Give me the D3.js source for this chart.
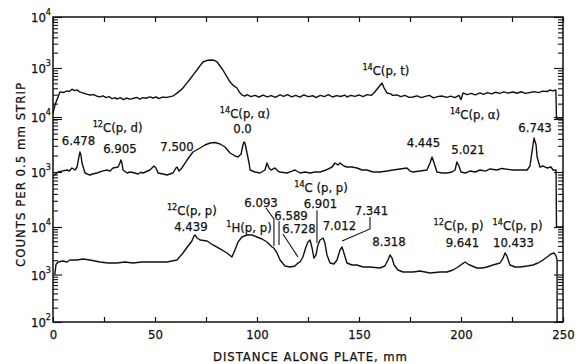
<!DOCTYPE html>
<html>
<head>
<meta charset="utf-8">
<script src="https://cdn.jsdelivr.net/npm/d3@7"></script>
<style>
  body { margin: 0; background: #fff; }
  svg text { font-family: "DejaVu Sans Condensed", "DejaVu Sans", sans-serif; fill: #111; stroke: #111; stroke-width: 0.25px; }
</style>
</head>
<body>
<div id="chart"></div>
<script>
// ---- data: [distance mm, counts per strip] ----
const xTicks = [0, 25, 50, 75, 100, 125, 150, 175, 200, 225, 250]
const xTickLabels = [0, 50, 100, 150, 200, 250]

// exponent labels shown on the left axis of each strip
const topExps = [3, 4]
const midExps = [3, 4]
const botExps = [2, 3, 4]

// top strip: 14C(p,t)
const topTrace = [[0,130],[1,190],[2,240],[3.4,340],[5,330],[6.9,355],[8,345],[9.3,385],[10.5,360],[11.8,372],[13,340],[14.7,325],[16,310],[18.1,296],[20,300],[21.5,280],[23,272],[24.5,285],[26,262],[27.5,275],[29,250],[30.5,262],[31.4,245],[33,262],[34.5,240],[36,258],[37.5,245],[39.2,252],[41,265],[42.5,245],[44,262],[45.5,255],[47.5,272],[49,258],[50.5,270],[52,252],[53.5,268],[55.9,265],[57.5,275],[59,285],[60.8,322],[62.3,360],[63.7,405],[65.5,500],[67.2,608],[69,760],[70.6,914],[72,1100],[73.5,1312],[75.3,1400],[77,1436],[78.8,1420],[80.4,1312],[82,1080],[83.3,914],[85,700],[86.8,531],[88.5,450],[90.2,405],[91.5,330],[92.6,296],[94,280],[95.1,300],[97,275],[99,290],[101,270],[103,295],[105,272],[107,288],[109,265],[111.3,296],[113,278],[115,300],[117,272],[119,290],[121,268],[123,298],[125,275],[127.5,285],[129,262],[131,290],[133,275],[135,300],[137,270],[139,288],[141,276],[143,295],[144.1,270],[146,290],[148,278],[150,296],[152,275],[154,300],[156,290],[157.5,330],[159.3,405],[161.3,508],[162.3,405],[163.7,324],[165.5,310],[166.5,290],[168.6,296],[170.5,275],[172.5,290],[174.5,265],[176.5,270],[178.5,285],[180.5,262],[182.5,278],[184.5,290],[186.5,260],[188.5,275],[190.5,282],[193.1,265],[195,280],[197,262],[199,290],[200,240],[201,324],[203,300],[205,318],[207,296],[209.3,324],[211,305],[213,330],[215,312],[217,335],[219,318],[221,340],[223,322],[225.5,338],[227.5,320],[229.5,342],[231.5,318],[233.8,330],[236,345],[238,330],[240,352],[242.2,345],[243.5,370],[245.1,355],[246.5,372],[246.8,100],[250,100]]

// middle strip: 12C(p,d), 14C(p,alpha)
const midTrace = [[0.3,880],[1,900],[2.5,1000],[4.4,1040],[6.9,1087],[8,1040],[9.3,1183],[10.8,1087],[11.8,1233],[12.7,1874],[13.2,2310],[13.7,2037],[14.2,1458],[15.7,959],[18.1,881],[19.8,930],[21.6,959],[24,1040],[26.5,1087],[28,1040],[29.4,1183],[31.9,1233],[32.8,1458],[33.3,1652],[33.8,1458],[34.3,1087],[36.3,959],[37.8,1000],[39.2,980],[41.7,920],[43,990],[44.1,959],[47.5,1087],[49.5,1285],[50.5,1183],[51.5,959],[53.9,920],[55.9,881],[58.8,959],[60.3,1183],[60.8,1233],[61.8,1040],[63.2,1183],[65.7,1652],[68.6,2310],[72.1,2731],[74.5,3097],[77,3367],[79.4,3440],[81.9,3228],[84.3,2848],[86.8,2215],[89.2,1960],[90.7,1874],[92.2,2120],[93.1,3097],[93.6,3511],[94.1,3367],[95.1,2215],[96.1,1458],[96.6,1087],[99,1000],[101.5,959],[103.9,1087],[104.9,1458],[105.9,1183],[106.9,1087],[108.8,1183],[110.3,1040],[111.3,1000],[114.7,959],[117.2,1040],[118.6,1087],[121.1,959],[123.5,1000],[126,959],[128.4,1000],[130.9,1000],[133.8,1087],[136.8,1233],[138.2,1458],[139.7,1340],[140.7,1458],[142.6,1285],[144.1,1233],[146.6,1233],[149,1183],[151.5,1087],[153.9,1087],[156.9,1000],[160.3,1000],[163.7,1040],[166.7,1087],[170.1,1135],[173.5,1183],[175,1040],[176.5,1000],[179.9,1040],[183.3,1087],[184.8,1458],[185.8,1874],[186.8,1458],[188.2,1000],[190.7,959],[193.1,959],[195.6,1000],[197.1,1087],[198,1520],[199,1285],[200,1000],[202,959],[204.4,1040],[207,1000],[209.3,1087],[212,1040],[214.2,1135],[217.6,1087],[220,1160],[221.6,1135],[225.5,1087],[228.9,1087],[232.4,1087],[233.8,1285],[234.8,2310],[235.8,4151],[236.8,3100],[237.3,1874],[238.7,1233],[240.2,1285],[242.2,1183],[244.1,1233],[245.1,1087],[246.6,1087],[246.8,100],[250,100]]

// bottom strip: 12C(p,p), 1H(p,p), 14C(p,p)
const botTrace = [[0.8,1000],[1,1077],[1.5,1650],[2.5,1834],[4.9,1923],[6.9,1834],[8.3,2017],[11.8,2017],[14.7,2117],[18.1,2017],[23,1834],[27,1746],[31.4,1746],[35.3,1834],[39.2,1746],[43.6,1834],[47.5,1834],[52.5,1834],[55.9,1834],[58.3,1923],[60.8,2017],[63.7,2838],[66.2,3978],[68.1,5070],[69.1,6480],[69.6,6792],[70.6,5867],[72.1,5325],[75.5,5070],[78.4,4182],[81.9,3450],[85.3,2838],[87.7,2335],[89.2,3280],[90.7,4830],[92.6,6155],[95.1,6792],[97.5,6792],[100,6155],[102.5,5590],[104.9,4830],[107.4,3792],[108.3,3610],[109.8,2838],[111.3,2017],[113.7,1510],[116.2,1439],[118.6,1510],[120.1,1746],[121.1,1834],[122.5,2335],[124,3792],[125,4830],[126,5325],[127,3610],[127.9,2220],[128.9,2575],[129.9,4182],[130.9,5325],[132.4,5867],[133.3,4603],[134.3,2575],[135.8,1746],[137.7,1660],[139.2,2017],[140.7,3280],[141.7,3792],[142.6,2838],[144.1,1746],[146.6,1585],[149,1585],[152,1439],[155.4,1439],[160.3,1371],[162.7,1510],[164.2,2017],[165.2,2575],[166.2,2220],[167.2,1585],[169.1,1245],[171.6,1130],[176.5,1130],[179.9,1185],[184.8,1077],[189.7,1130],[193.1,1130],[196.1,1245],[198.5,1439],[200.5,1660],[202,1834],[203.4,1660],[205.4,1510],[207.8,1371],[210.3,1371],[212.7,1439],[215.7,1585],[219.1,1746],[220.6,2220],[221.6,2838],[222.5,2460],[224,1585],[226.5,1439],[228.9,1439],[232.4,1510],[235.3,1585],[237.7,1746],[240.2,2017],[242.2,2335],[244.1,2700],[245.6,2838],[246.6,2460],[247.1,2017],[247.1,100],[250,100]]

// peak annotations, anchored at [mm, counts] of their strip
const topNotes = [
  { sup: '14', t: 'C(p, t)', mm: 163.2, c: 914 }
]
const midNotes = [
  { sup: '12', t: 'C(p, d)', mm: 31.7, c: 6580 },
  { t: '6.478', mm: 12.5, c: 3820 },
  { t: '6.905', mm: 32.8, c: 2730 },
  { t: '7.500', mm: 60.8, c: 2970 },
  { sup: '14', t: 'C(p, α)', mm: 94.1, c: 11800 },
  { t: '0.0', mm: 92.9, c: 6100 },
  { t: '4.445', mm: 181.6, c: 3510 },
  { t: '5.021', mm: 203.4, c: 2620 },
  { sup: '14', t: 'C(p, α)', mm: 206.9, c: 11000 },
  { t: '6.743', mm: 236.3, c: 6580 }
]
const botNotes = [
  { sup: '12', t: 'C(p, p)', mm: 68.1, c: 22800 },
  { t: '4.439', mm: 67.6, c: 10500 },
  { sup: '1', t: 'H(p, p)', mm: 96.1, c: 10000 },
  { t: '6.093', mm: 102.0, c: 33600 },
  { t: '6.589', mm: 116.7, c: 17900 },
  { t: '6.728', mm: 120.6, c: 9300 },
  { sup: '14', t: 'C (p, p)', mm: 131.4, c: 69000 },
  { t: '6.901', mm: 131.1, c: 32000 },
  { t: '7.012', mm: 140.4, c: 11020 },
  { t: '7.341', mm: 156.1, c: 22000 },
  { t: '8.318', mm: 164.7, c: 5070 },
  { sup: '12', t: 'C(p, p)', mm: 198.8, c: 11020 },
  { t: '9.641', mm: 200.7, c: 4830 },
  { sup: '14', t: 'C(p, p)', mm: 227.7, c: 11020 },
  { t: '10.433', mm: 225.7, c: 4830 }
]
// leader lines from labels down to the peaks (bottom strip)
const botLeaders = [
  [[104.4, 25100], [108.3, 14700], [108.3, 3980]],
  [[110.8, 13370], [110.8, 4180]],
  [[112.7, 7130], [120.1, 2335]],
  [[129.4, 22500], [129.4, 4600]],
  [[155.4, 16260], [155.4, 9080], [141.7, 5070]]
]

const width = 580, height = 364
const padL = 53, padR = 563, padT = 17, padB = 322

const svg = d3.select('#chart').append('svg')
  .attr('width', width)
  .attr('height', height)

const x = d3.scaleLinear().domain([0, 250]).range([padL, padR])

// each strip is its own two-decade log axis, stacked on top of each other
const yTop = d3.scaleLog().domain([100, 10000]).range([119, padT])
const yMid = d3.scaleLog().domain([100, 10000]).range([227, 117])
const yBot = d3.scaleLog().domain([100, 10000]).range([padB, 227])

const strips = [
  { y: yTop, trace: topTrace, exps: topExps, notes: topNotes },
  { y: yMid, trace: midTrace, exps: midExps, notes: midNotes },
  { y: yBot, trace: botTrace, exps: botExps, notes: botNotes }
]

// x axes, ticks pointing inward
const xb = svg.append('g')
  .attr('transform', 'translate(0,' + padB + ')')
  .call(d3.axisBottom(x).tickValues(xTicks).tickSize(-5).tickPadding(9)
    .tickFormat(d => xTickLabels.includes(d) ? d : ''))
const xt = svg.append('g')
  .attr('transform', 'translate(0,' + padT + ')')
  .call(d3.axisTop(x).tickValues(xTicks).tickSize(-5).tickFormat(''))
for (const g of [xb, xt]) {
  g.select('.domain').remove()
  g.selectAll('line').attr('stroke', '#111').attr('stroke-width', 1.2)
}
xb.selectAll('text').attr('font-size', 13).attr('fill', '#111').attr('dy', '0.6em')

// y axes for every strip, log ticks on both sides
strips.forEach(s => {
  const isMajor = d => Math.abs(Math.log10(d) - Math.round(Math.log10(d))) < 1e-6
  const gl = svg.append('g')
    .attr('transform', 'translate(' + padL + ',0)')
    .call(d3.axisRight(s.y).tickSize(5).tickFormat(''))
  const gr = svg.append('g')
    .attr('transform', 'translate(' + padR + ',0)')
    .call(d3.axisLeft(s.y).tickSize(5).tickFormat(''))
  gl.selectAll('.tick line').filter(isMajor).attr('x2', 9)
  gr.selectAll('.tick line').filter(isMajor).attr('x2', -9)
  for (const g of [gl, gr]) {
    g.select('.domain').remove()
    g.selectAll('line').attr('stroke', '#111').attr('stroke-width', 1.1)
  }

  const lab = svg.append('g').selectAll('text')
    .data(s.exps)
    .join('text')
    .attr('x', padL - 2)
    .attr('y', d => s.y(Math.pow(10, d)))
    .attr('text-anchor', 'end')
    .attr('font-size', 13)
  lab.append('tspan').attr('dy', '0.4em').text('10')
  lab.append('tspan').attr('font-size', 9).attr('dy', '-0.75em').text(d => d)
})

// frame
svg.append('rect')
  .attr('x', padL).attr('y', padT)
  .attr('width', padR - padL).attr('height', padB - padT)
  .attr('fill', 'none').attr('stroke', '#111').attr('stroke-width', 1.5)

// traces
strips.forEach(s => {
  const line = d3.line().x(d => x(d[0])).y(d => s.y(d[1]))
  svg.append('path')
    .datum(s.trace)
    .attr('d', line)
    .attr('fill', 'none')
    .attr('stroke', '#111')
    .attr('stroke-width', 1.4)
    .attr('stroke-linejoin', 'round')
})

// annotations
strips.forEach(s => {
  const t = svg.append('g').selectAll('text')
    .data(s.notes)
    .join('text')
    .attr('x', d => x(d.mm))
    .attr('y', d => s.y(d.c))
    .attr('text-anchor', 'middle')
    .attr('font-size', 13)
  t.filter(d => d.sup).append('tspan')
    .attr('font-size', 9).attr('dy', '-0.05em').text(d => d.sup)
  t.append('tspan')
    .attr('dy', d => d.sup ? '0.4em' : '0.36em')
    .text(d => d.t)
})

const leader = d3.line().x(d => x(d[0])).y(d => yBot(d[1]))
svg.append('g').selectAll('path')
  .data(botLeaders)
  .join('path')
  .attr('d', leader)
  .attr('fill', 'none')
  .attr('stroke', '#111')
  .attr('stroke-width', 1.1)

// axis titles
svg.append('text')
  .attr('x', 310).attr('y', 361)
  .attr('text-anchor', 'middle')
  .attr('font-size', 13)
  .attr('textLength', 194).attr('lengthAdjust', 'spacing')
  .text('DISTANCE ALONG PLATE, mm')

svg.append('text')
  .attr('transform', 'translate(25,175) rotate(-90)')
  .attr('text-anchor', 'middle')
  .attr('font-size', 13)
  .attr('textLength', 184).attr('lengthAdjust', 'spacing')
  .text('COUNTS PER 0.5 mm STRIP')
</script>
</body>
</html>
